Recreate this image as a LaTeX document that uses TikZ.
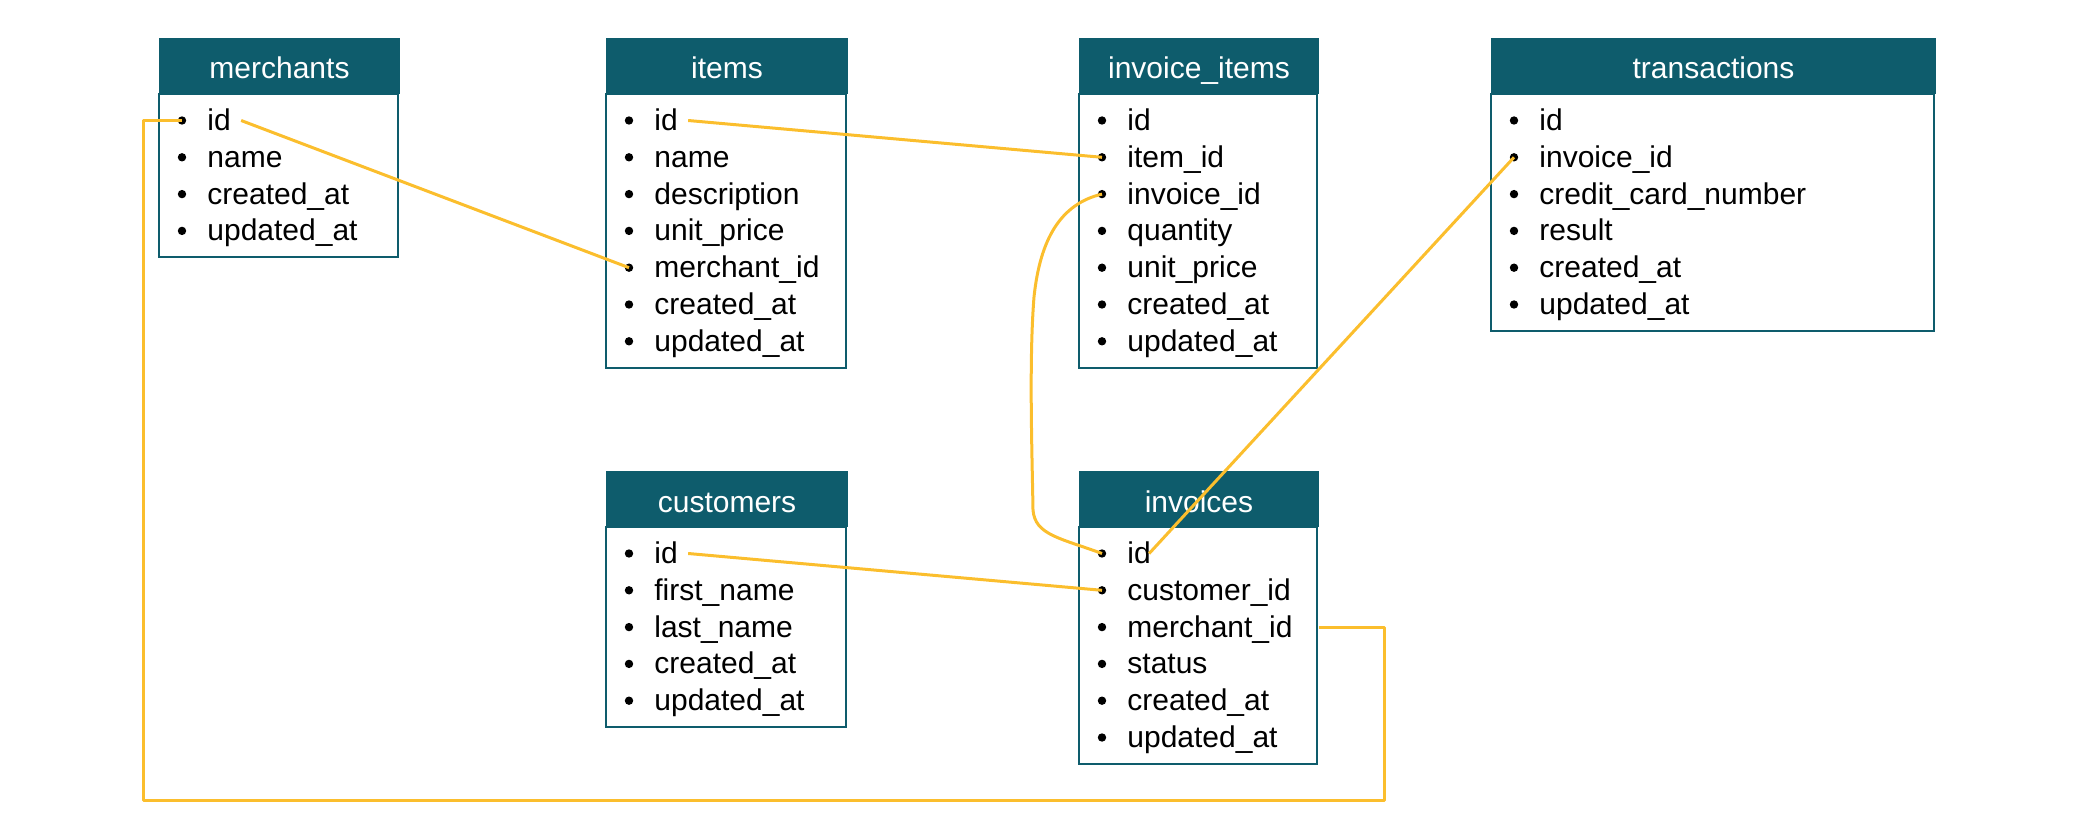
\documentclass[tikz,border=0pt]{standalone}
\usepackage{fontspec}
\setmainfont{Liberation Sans}
\usetikzlibrary{calc}

\definecolor{tblteal}{RGB}{14,92,108}
\definecolor{linkgold}{RGB}{251,190,45}

% #1 node name, #2 title, #3 left, #4 top, #5 width, #6 rows, #7 fields
\newcommand{\dbtable}[7]{%
  \node[tblhead, minimum width={#5*0.5pt}] (#1) at (#3+#5/2, #4+27) {#2};
  \draw[tblline] (#1.south west) rectangle ++(#5, 16+36.8*#6);
  \foreach \fld [count=\i] in {#7}{
    \node[dot] (#1-\i) at (#3+22, #4+81.5+36.8*\i-36.8) {};
    \node[field] (#1-\i-t) at (#3+37, #4+81.5+36.8*\i-36.8) {\fld};
  }
}

\begin{document}
\begin{tikzpicture}[x=0.5pt,y=-0.5pt,
    tblhead/.style={rectangle, fill=tblteal, draw=tblteal, line width=1pt,
      minimum height=27pt, inner sep=0pt, text=white,
      text height=15pt, text depth=2pt,
      font=\fontsize{15}{18}\selectfont},
    tblline/.style={draw=tblteal, line width=1pt},
    dot/.style={circle, fill=black, inner sep=0pt, minimum size=4.2pt},
    field/.style={anchor=west, inner xsep=5pt, inner ysep=0pt,
      text height=13pt, text depth=3pt,
      font=\fontsize{15}{18}\selectfont},
    link/.style={draw=linkgold, line width=1.5pt, line join=round}]
  \useasboundingbox (0,0) rectangle (2100,834);

  \dbtable{merch}{merchants}{160}{39}{239}{4}{id,name,created\_at,updated\_at}
  \dbtable{items}{items}{607}{39}{240}{7}{id,name,description,unit\_price,merchant\_id,created\_at,updated\_at}
  \dbtable{invit}{invoice\_items}{1080}{39}{238}{7}{id,item\_id,invoice\_id,quantity,unit\_price,created\_at,updated\_at}
  \dbtable{trans}{transactions}{1492}{39}{443}{6}{id,invoice\_id,credit\_card\_number,result,created\_at,updated\_at}
  \dbtable{cust}{customers}{607}{472}{240}{5}{id,first\_name,last\_name,created\_at,updated\_at}
  \dbtable{inv}{invoices}{1080}{472}{238}{6}{id,customer\_id,merchant\_id,status,created\_at,updated\_at}

  % relations
  \coordinate (loopbl) at (143,800);
  \draw[link] (merch-1-t.east) -- (items-5.center);
  \draw[link] (inv.east |- inv-3.center) -- ++(65,0) |- (loopbl) |- (merch-1.center);
  \draw[link] (items-1-t.east) -- (invit-2.center);
  \draw[link] (invit-3.center) .. controls (1060,204) and (1040,240) .. (1034,297)
    .. controls (1029,360) and (1032,450) .. (1033,510)
    .. controls (1035,535) and (1060,538) .. (inv-1.center);
  \draw[link] (cust-1-t.east) -- (inv-2.center);
  \draw[link] (trans-2.center) -- ([xshift=-6pt]inv-1-t.east);
\end{tikzpicture}
\end{document}
